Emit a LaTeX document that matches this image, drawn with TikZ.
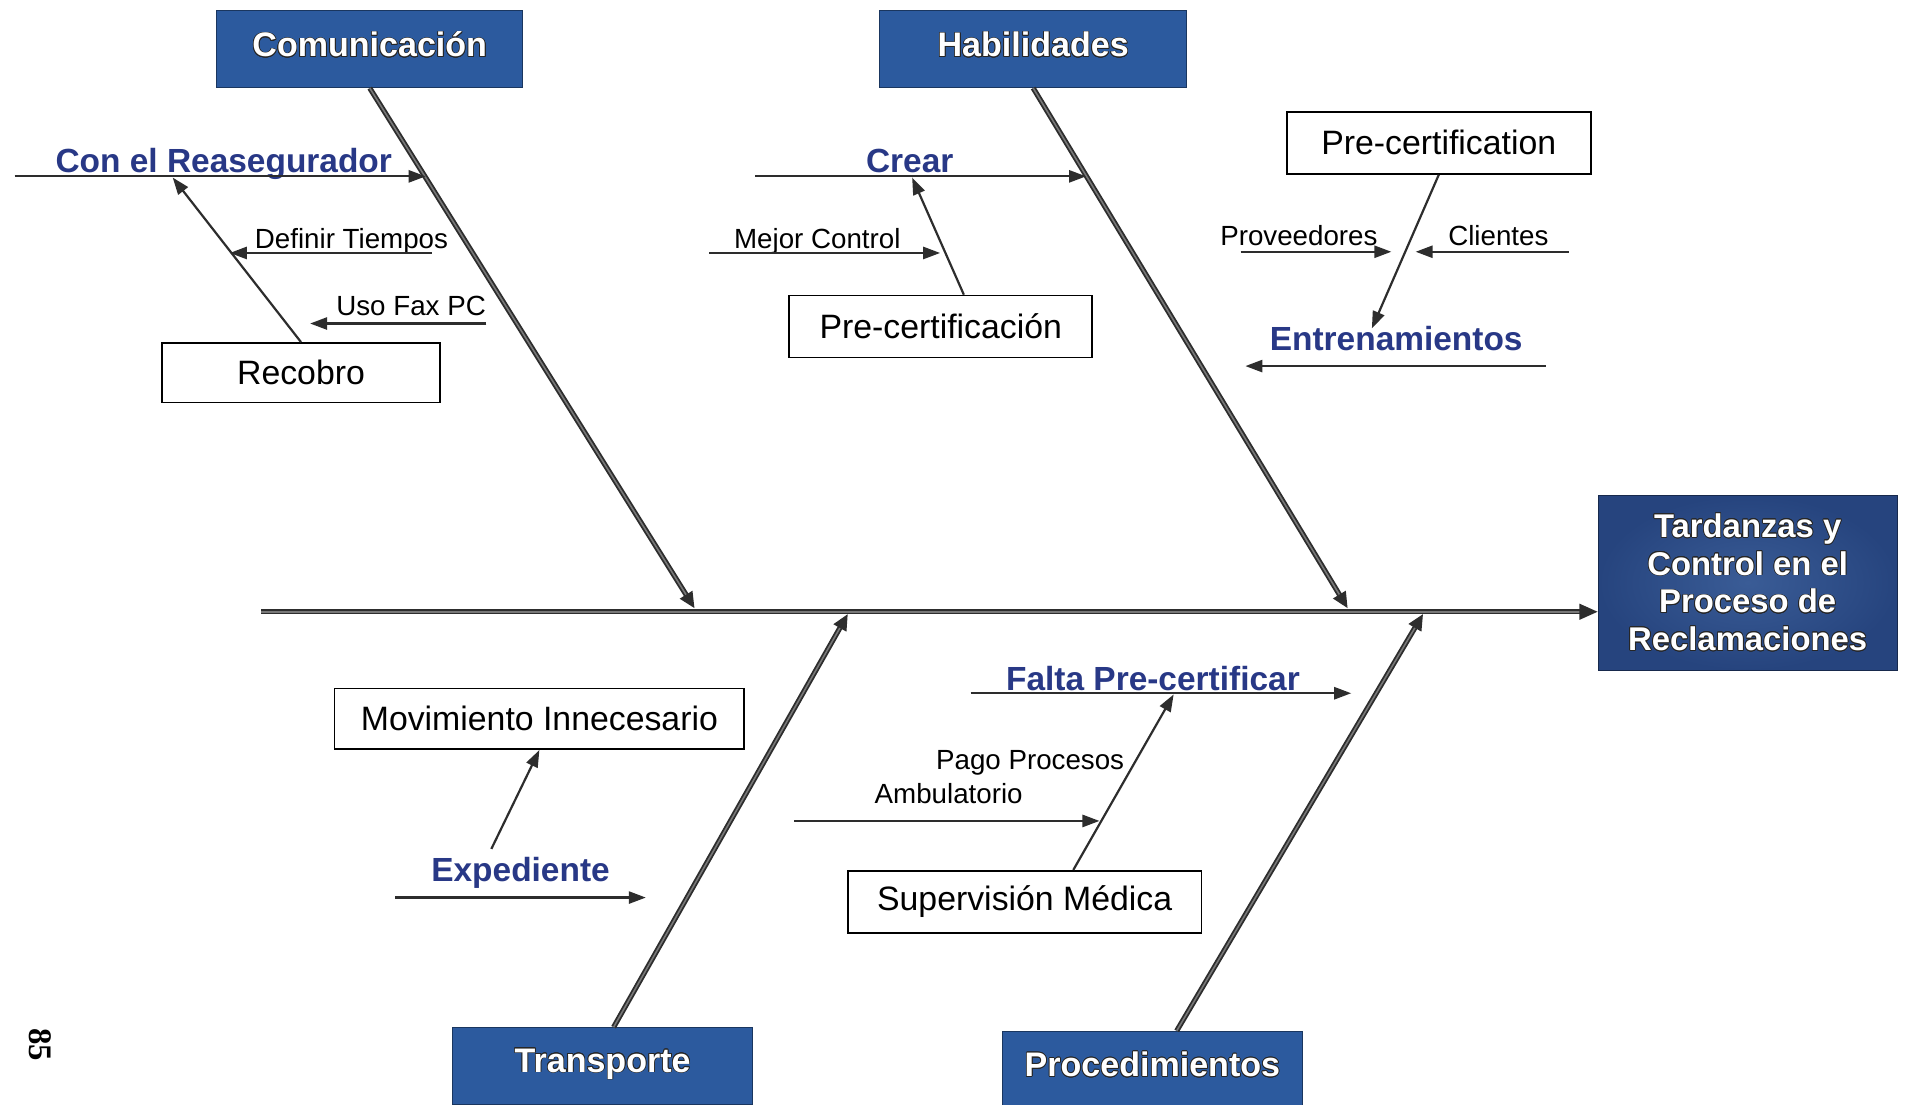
\documentclass[tikz,border=0pt]{standalone}
\usepackage{fontspec}
\setmainfont{Liberation Sans}
\newfontfamily\pagenumfont{Liberation Serif}
\usepackage{contour}
\contourlength{0.6pt}
\contournumber{16}
\usetikzlibrary{arrows.meta}

\definecolor{hdrblue}{RGB}{44,90,158}
\definecolor{effblue}{RGB}{38,68,126}
\definecolor{effblueL}{RGB}{58,92,150}
\definecolor{lblblue}{RGB}{40,56,134}
\definecolor{ink}{RGB}{45,45,45}
\definecolor{bonefill}{RGB}{120,120,120}

\newcommand{\hdrtext}[1]{\contour{black!85}{#1}}

\begin{document}
\begin{tikzpicture}[x=1pt,y=-1pt,
  hdr/.style={fill=hdrblue, draw=hdrblue!60!black, line width=0.8pt,
    text=white, font=\fontsize{28}{32}\selectfont\bfseries,
    minimum width=252pt, minimum height=63pt, inner sep=0pt},
  effbox/.style={shading=radial, inner color=effblueL, outer color=effblue,
    draw=effblue!60!black, line width=0.8pt,
    text=white, font=\fontsize{27}{31}\selectfont\bfseries, align=center,
    minimum width=246pt, minimum height=144pt, inner sep=0pt},
  causebox/.style={draw=black, line width=1.4pt, fill=white,
    font=\fontsize{27.8}{32}\selectfont, inner sep=0pt},
  bluelbl/.style={text=lblblue, font=\fontsize{27.5}{32}\selectfont\bfseries,
    anchor=base, inner sep=0pt},
  smalllbl/.style={text=black, font=\fontsize{22.8}{27}\selectfont,
    anchor=base, inner sep=0pt},
  bone/.style={draw=ink, double=bonefill, double distance=1.3pt, line width=1.5pt,
    -{Triangle[length=13pt,width=12pt,fill=ink]}},
  thin/.style={draw=ink, line width=1.8pt,
    -{Triangle[length=14pt,width=10pt,fill=ink]}},
]
\useasboundingbox (0,0) rectangle (1568,908);
\fill[white] (0,0) rectangle (1568,908);

% ---------- category boxes and effect ----------
\node[hdr] (com) at (304,40.5) {\raisebox{8pt}{\hdrtext{Comunicación}}};
\node[hdr] (hab) at (849.5,40.5) {\raisebox{8pt}{\hdrtext{Habilidades}}};
\node[hdr, minimum width=247pt] (tra) at (495.5,876.5) {\raisebox{9pt}{\hdrtext{Transporte}}};
\node[hdr, minimum width=247pt] (pro) at (947.5,879.5) {\raisebox{9pt}{\hdrtext{Procedimientos}}};
\node[effbox] (eff) at (1437,479) {\hdrtext{Tardanzas y}\\\hdrtext{Control en el}\\\hdrtext{Proceso de}\\\hdrtext{Reclamaciones}};

% ---------- spine and bones ----------
\coordinate (spineL) at (215,503);
\coordinate (b1) at (571,500);
\coordinate (b2) at (1108,500);
\coordinate (b3) at (697,505);
\coordinate (b4) at (1170,505);
\draw[bone, -{Triangle[length=15pt,width=13pt,fill=ink]}] (spineL) -- (spineL -| eff.west);
\draw[bone] (com.south) -- (b1);
\draw[bone] (hab.south) -- (b2);
\draw[bone] ([xshift=9pt]tra.north) -- (b3);
\draw[bone] ([xshift=20pt]pro.north) -- (b4);

% ---------- Comunicacion ----------
\coordinate (reaL) at (12,145);
\coordinate (reaR) at (350,145);
\node[bluelbl] (rea) at (184,142) {Con el Reasegurador};
\draw[thin] (reaL) -- (reaR);
\node[causebox, minimum width=229pt, minimum height=49pt] (rec) at (247.5,306.5) {Recobro};
\coordinate (recT) at (142,146);
\draw[thin] (rec.north) -- (recT);
\node[smalllbl] (def) at (289,204) {Definir Tiempos};
\coordinate (defR) at (355,208);
\coordinate (defT) at (189,208);
\draw[thin] (defR) -- (defT);
\node[smalllbl] (fax) at (338,259) {Uso Fax PC};
\coordinate (faxR) at (400,266);
\coordinate (faxT) at (255,266);
\draw[thin] (faxR) -- (faxT);

% ---------- Habilidades ----------
\coordinate (creL) at (621,145);
\coordinate (creR) at (893,145);
\node[bluelbl] (cre) at (748,142) {Crear};
\draw[thin] (creL) -- (creR);
\node[causebox, minimum width=249pt, minimum height=51pt] (pcs) at (773.5,268.5) {Pre-certificación};
\coordinate (pcsT) at (750,146);
\draw[thin] ([xshift=19pt]pcs.north) -- (pcsT);
\node[smalllbl] (mej) at (672,204) {Mejor Control};
\coordinate (mejL) at (583,208);
\coordinate (mejT) at (773,208);
\draw[thin] (mejL) -- (mejT);

\node[causebox, minimum width=250pt, minimum height=51pt] (pce) at (1183,117.5) {Pre-certification};
\coordinate (pceT) at (1128,270);
\draw[thin] (pce.south) -- (pceT);
\node[smalllbl] (prv) at (1068,202) {Proveedores};
\coordinate (prvL) at (1020,207);
\coordinate (prvT) at (1144,207);
\draw[thin] (prvL) -- (prvT);
\node[smalllbl] (cli) at (1232,202) {Clientes};
\coordinate (cliR) at (1290,207);
\coordinate (cliT) at (1164,207);
\draw[thin] (cliR) -- (cliT);
\node[bluelbl] (ent) at (1148,288) {Entrenamientos};
\coordinate (entR) at (1271,301);
\coordinate (entT) at (1024,301);
\draw[thin] (entR) -- (entT);

% ---------- Transporte ----------
\node[causebox, minimum width=337pt, minimum height=50pt] (mov) at (443.5,591) {Movimiento Innecesario};
\coordinate (movB) at (404,698);
\draw[thin] (movB) -- (mov.south);
\node[bluelbl] (exp) at (428,725) {Expediente};
\coordinate (expL) at (325,738);
\coordinate (expT) at (531,738);
\draw[thin] (expL) -- (expT);

% ---------- Procedimientos ----------
\node[bluelbl] (fal) at (948,568) {Falta Pre-certificar};
\coordinate (falL) at (798,570);
\coordinate (falT) at (1111,570);
\draw[thin] (falL) -- (falT);
\node[causebox, minimum width=291pt, minimum height=51pt] (sup) at (842.5,741.5) {Supervisión Médica};
\coordinate (supT) at (965,571);
\draw[thin] ([xshift=40pt]sup.north) -- (supT);
\node[smalllbl] (pag) at (847,633) {Pago Procesos};
\node[smalllbl] (amb) at (780,661) {Ambulatorio};
\coordinate (pagL) at (653,675);
\coordinate (pagT) at (904,675);
\draw[thin] (pagL) -- (pagT);

% ---------- page number ----------
\node[font=\pagenumfont\bfseries\fontsize{27}{30}\selectfont, rotate=-90, inner sep=0pt] (pnum) at (33,859) {85};
\end{tikzpicture}
\end{document}
